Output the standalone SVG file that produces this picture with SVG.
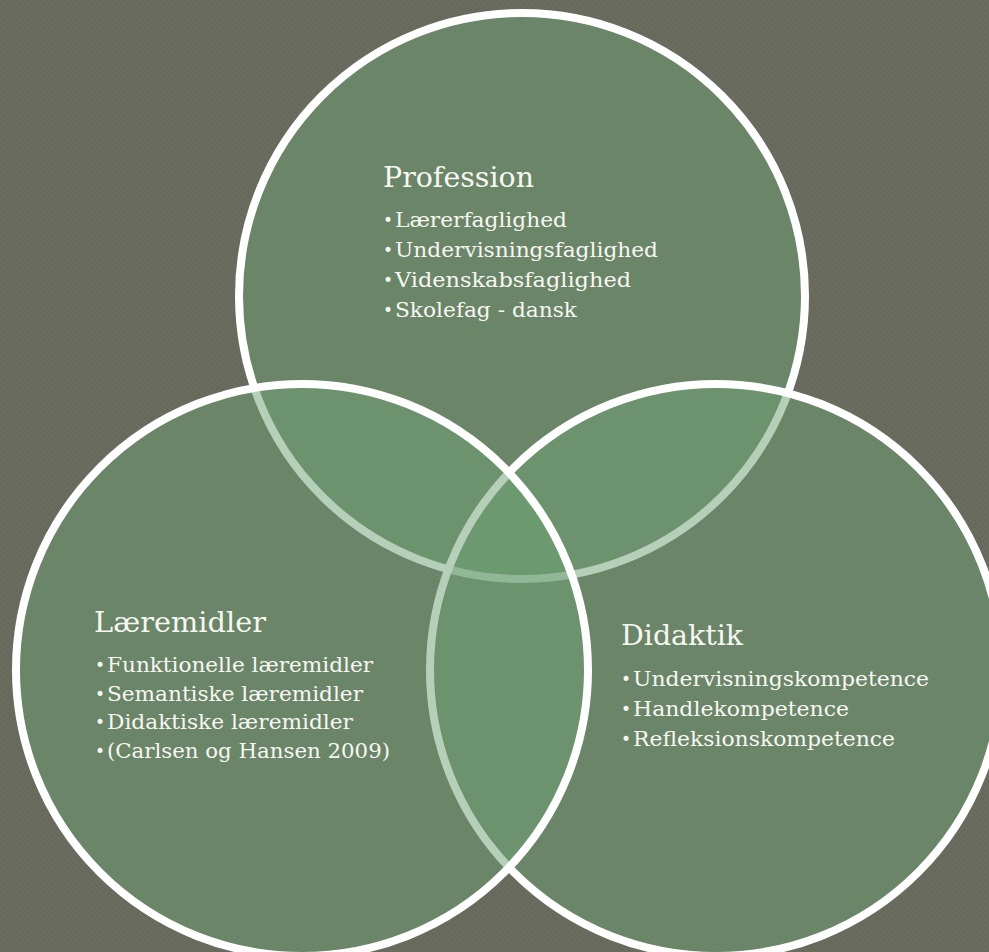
<svg xmlns="http://www.w3.org/2000/svg" width="989" height="952" viewBox="0 0 989 952">
  <style>
    .venn { fill: rgb(110,160,115); fill-opacity: 0.5; stroke: #ffffff; stroke-width: 8; }
    .title { font-family: "DejaVu Serif", "Liberation Serif", serif; font-size: 27px; fill: #f7f7f2; }
    .item { font-family: "DejaVu Serif", "Liberation Serif", serif; font-size: 20px; fill: #f7f7f2; }
    .bul { font-family: "DejaVu Sans", "Liberation Sans", sans-serif; font-size: 17px; fill: #f7f7f2; }
  </style>
  <defs>
    <pattern id="tex" width="6" height="6" patternUnits="userSpaceOnUse">
      <rect width="6" height="6" fill="#67695c"/>
      <rect width="3" height="3" fill="#6a6c5f"/>
      <rect x="3" y="3" width="3" height="3" fill="#6a6c5f"/>
    </pattern>
  </defs>
  <rect width="989" height="952" fill="url(#tex)"/>

  <g id="profession">
    <circle class="venn" cx="522" cy="296" r="283"/>
    <text class="title" x="383" y="187" textLength="151" lengthAdjust="spacingAndGlyphs">Profession</text>
    <text class="bul" x="383" y="226">•</text>
    <text class="item" x="395" y="227" textLength="172" lengthAdjust="spacingAndGlyphs">Lærerfaglighed</text>
    <text class="bul" x="383" y="256">•</text>
    <text class="item" x="395" y="257" textLength="263" lengthAdjust="spacingAndGlyphs">Undervisningsfaglighed</text>
    <text class="bul" x="383" y="286">•</text>
    <text class="item" x="395" y="287" textLength="236" lengthAdjust="spacingAndGlyphs">Videnskabsfaglighed</text>
    <text class="bul" x="383" y="316">•</text>
    <text class="item" x="395" y="317" textLength="182" lengthAdjust="spacingAndGlyphs">Skolefag - dansk</text>
  </g>

  <g id="didaktik">
    <circle class="venn" cx="716" cy="670" r="286"/>
    <text class="title" x="621" y="645" textLength="122" lengthAdjust="spacingAndGlyphs">Didaktik</text>
    <text class="bul" x="621" y="685">•</text>
    <text class="item" x="633" y="686" textLength="296" lengthAdjust="spacingAndGlyphs">Undervisningskompetence</text>
    <text class="bul" x="621" y="715">•</text>
    <text class="item" x="633" y="716" textLength="216" lengthAdjust="spacingAndGlyphs">Handlekompetence</text>
    <text class="bul" x="621" y="745">•</text>
    <text class="item" x="633" y="746" textLength="262" lengthAdjust="spacingAndGlyphs">Refleksionskompetence</text>
  </g>

  <g id="laeremidler">
    <circle class="venn" cx="302" cy="670" r="286"/>
    <text class="title" x="94" y="632" textLength="172" lengthAdjust="spacingAndGlyphs">Læremidler</text>
    <text class="bul" x="95" y="671">•</text>
    <text class="item" x="107" y="672" textLength="266" lengthAdjust="spacingAndGlyphs">Funktionelle læremidler</text>
    <text class="bul" x="95" y="700">•</text>
    <text class="item" x="107" y="701" textLength="256" lengthAdjust="spacingAndGlyphs">Semantiske læremidler</text>
    <text class="bul" x="95" y="728">•</text>
    <text class="item" x="107" y="729" textLength="246" lengthAdjust="spacingAndGlyphs">Didaktiske læremidler</text>
    <text class="bul" x="95" y="757">•</text>
    <text class="item" x="107" y="758" textLength="283" lengthAdjust="spacingAndGlyphs">(Carlsen og Hansen 2009)</text>
  </g>
</svg>
